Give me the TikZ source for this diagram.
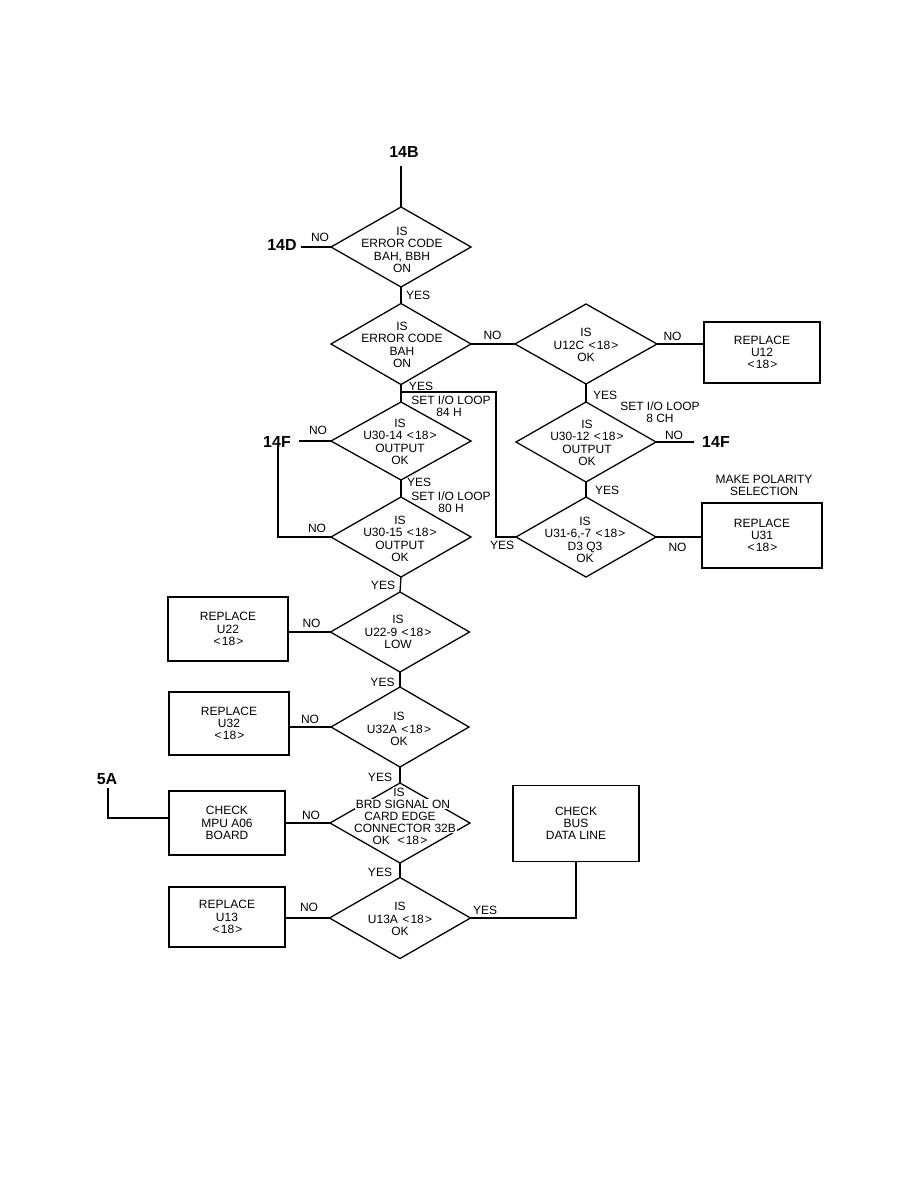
\documentclass[tikz,border=0pt]{standalone}
\usepackage{fontspec}
\setmainfont{Liberation Sans}
\usetikzlibrary{shapes.geometric}
\newcommand\myeight{\kern1pt<\kern1.2pt18\kern1.2pt>}
\begin{document}
\begin{tikzpicture}[x=1pt,y=-1pt,
  every node/.style={font=\fontsize{12}{12.3}\selectfont},
  dia/.style={diamond,draw,line width=1.3pt,minimum width=140pt,minimum height=80pt,inner sep=0pt,outer sep=0pt},
  txt/.style={align=center,inner sep=0pt},
  lbl/.style={inner sep=0pt},
  big/.style={inner sep=0pt,font=\fontsize{16}{16}\selectfont\bfseries},
  box/.style={draw,line width=1.3pt,align=center,inner sep=0pt,outer sep=0pt},
  wire/.style={line width=1.3pt},
  cut/.style={inner sep=0.8pt,fill=white}]
\useasboundingbox (0,0) rectangle (918,1188);

% decisions
\node[dia] (d1) at (401,247) {};
\node[txt] (t1) at (402,250) {IS\\ERROR CODE\\BAH, BBH\\ON};
\node[dia,minimum height=81pt] (d2) at (401,344) {};
\node[txt] (t2) at (402,345) {IS\\ERROR CODE\\BAH\\ON};
\node[dia,minimum width=142pt] (d3) at (586,344) {};
\node[txt] (t3) at (586,345) {IS\\U12C \myeight\\OK};
\node[dia] (d4) at (586,442) {};
\node[txt] (t4) at (587,443) {IS\\U30-12 \myeight\\OUTPUT\\OK};
\node[dia] (d5) at (586,537) {};
\node[txt] (t5) at (585,540) {IS\\U31-6,-7 \myeight\\D3 Q3\\OK};
\node[dia,minimum height=78pt] (d6) at (401,441) {};
\node[txt] (t6) at (400,442) {IS\\U30-14 \myeight\\OUTPUT\\OK};
\node[dia] (d7) at (401,537) {};
\node[txt] (t7) at (400,539) {IS\\U30-15 \myeight\\OUTPUT\\OK};
\node[dia,minimum width=139pt] (d8) at (400,632) {};
\node[txt] (t8) at (398,632) {IS\\U22-9 \myeight\\LOW};
\node[dia,minimum width=138pt] (d9) at (400,727) {};
\node[txt] (t9) at (399,729) {IS\\U32A \myeight\\OK};
\node[dia] (d10) at (400,823) {};
\node[cut] (t10a) at (399,792) {IS};
\node[cut] (t10b) at (403,804) {BRD SIGNAL ON};
\node[cut] (t10c) at (400,816) {CARD EDGE};
\node[cut] (t10d) at (405,828) {CONNECTOR 32B};
\node[cut] (t10e) at (400,840) {OK\ \ \myeight};
\node[dia,minimum width=141pt,minimum height=81pt] (d11) at (400,918) {};
\node[txt] (t11) at (400,919) {IS\\U13A \myeight\\OK};

% boxes
\node[box,minimum width=116pt,minimum height=61pt] (b12) at (762,352.5) {REPLACE\\U12\\\myeight};
\node[box,minimum width=120pt,minimum height=65pt] (b31) at (762,535.5) {REPLACE\\U31\\\myeight};
\node[box,minimum width=120pt,minimum height=64pt] (b22) at (228,629) {REPLACE\\U22\\\myeight};
\node[box,minimum width=120pt,minimum height=63pt] (b32) at (229,723.5) {REPLACE\\U32\\\myeight};
\node[box,minimum width=116pt,minimum height=64pt] (bmpu) at (227,823) {CHECK\\MPU A06\\BOARD};
\node[box,minimum width=116pt,minimum height=60pt] (b13) at (227,917) {REPLACE\\U13\\\myeight};
\node[box,minimum width=126pt,minimum height=76pt] (bbus) at (576,823.5) {CHECK\\BUS\\DATA LINE};

% off-page labels
\node[big] (n14b) at (404,152) {14B};
\node[big] (n14d) at (282,245) {14D};
\node[big] (n14fr) at (716,442) {14F};
\node[big] (n14fl) at (277,442) {14F};
\node[big] (n5a) at (107,779) {5A};

% free ends
\coordinate (c14b) at (401,166);
\coordinate (c14d) at (301,247);
\coordinate (c14fr) at (694,442);
\coordinate (c14fl) at (299,441);
\coordinate (c14flb) at (278,446);
\coordinate (j1) at (401,392);
\coordinate (c5) at (496,537);
\coordinate (c5a) at (108,788);
\coordinate (c5ab) at (108,818);
\coordinate (cbus) at (576,918);

% connectors
\draw[wire] (c14b) -- (d1.north);
\draw[wire] (c14d) -- (d1.west);
\draw[wire] (d1.south) -- (d2.north);
\draw[wire] (d2.east) -- (d3.west);
\draw[wire] (d3.east) -- (d3.east -| b12.west);
\draw[wire] (d3.south) -- (d4.north);
\draw[wire] (d4.east) -- (c14fr);
\draw[wire] (d4.south) -- (d5.north);
\draw[wire] (d5.east) -- (d5.east -| b31.west);
\draw[wire] (d2.south) -- (d6.north);
\draw[wire] (j1) -| (c5) -- (d5.west);
\draw[wire] (d6.west) -- (c14fl);
\draw[wire] (d6.south) -- (d7.north);
\draw[wire] (d7.west) -| (c14flb);
\draw[wire] (d7.south) -- (d8.north);
\draw[wire] (d8.west) -- (d8.west -| b22.east);
\draw[wire] (d8.south) -- (d9.north);
\draw[wire] (d9.west) -- (d9.west -| b32.east);
\draw[wire] (d9.south) -- (d10.north);
\draw[wire] (d10.west) -- (d10.west -| bmpu.east);
\draw[wire] (c5a) -- (c5ab) -- (c5ab -| bmpu.west);
\draw[wire] (d10.south) -- (d11.north);
\draw[wire] (d11.west) -- (d11.west -| b13.east);
\draw[wire] (d11.east) -- (cbus) -- (bbus.south);

% branch labels
\node[lbl] (l1) at (320,237) {NO};
\node[lbl] (l2) at (418,295) {YES};
\node[lbl] (l3) at (492.5,335) {NO};
\node[lbl] (l4) at (421,386) {YES};
\node[txt] (l5) at (451,406.5) {SET I/O LOOP\\\hspace*{-4pt}84 H};
\node[lbl] (l6) at (672.5,336) {NO};
\node[lbl] (l7) at (605,395) {YES};
\node[txt] (l8) at (660,412) {SET I/O LOOP\\8 CH};
\node[lbl] (l9) at (674,435) {NO};
\node[lbl] (l10) at (607,490) {YES};
\node[txt] (l11) at (764,485.5) {MAKE POLARITY\\SELECTION};
\node[lbl] (l12) at (677.5,547) {NO};
\node[lbl] (l13) at (502,545) {YES};
\node[lbl] (l14) at (318,430) {NO};
\node[lbl] (l15) at (419,482) {YES};
\node[txt] (l16) at (451,502) {SET I/O LOOP\\80 H};
\node[lbl] (l17) at (317,528) {NO};
\node[lbl] (l18) at (383,585) {YES};
\node[lbl] (l19) at (311.5,623) {NO};
\node[lbl] (l20) at (382.5,682) {YES};
\node[lbl] (l21) at (310,719) {NO};
\node[lbl] (l22) at (380,777) {YES};
\node[lbl] (l23) at (311,815) {NO};
\node[lbl] (l24) at (380,872) {YES};
\node[lbl] (l25) at (309,907) {NO};
\node[lbl] (l26) at (485,910) {YES};
\end{tikzpicture}
\end{document}
